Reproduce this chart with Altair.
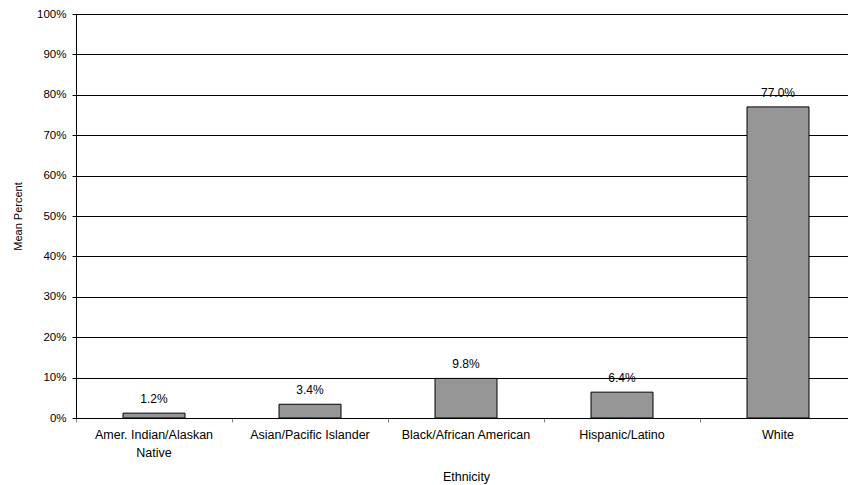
import altair as alt
import pandas as pd

# Mean share of each ethnicity
ethnicities = [
    "Amer. Indian/Alaskan Native",
    "Asian/Pacific Islander",
    "Black/African American",
    "Hispanic/Latino",
    "White",
]
mean_percent = [0.012, 0.034, 0.098, 0.064, 0.770]
y_ticks = [0, 0.1, 0.2, 0.3, 0.4, 0.5, 0.6, 0.7, 0.8, 0.9, 1.0]

df = pd.DataFrame({"Ethnicity": ethnicities, "Mean": mean_percent})

FONT = "Liberation Sans"

x_scale = alt.Scale(domain=ethnicities, range=[0, 780], paddingInner=0, paddingOuter=0)
y_scale = alt.Scale(domain=[0, 1])

y_axis = alt.Axis(
    values=y_ticks,
    format=".0%",
    grid=True,
    gridColor="black",
    gridOpacity=1,
    gridWidth=1,
    domainColor="black",
    tickColor="black",
    tickSize=4,
    labelPadding=6,
    labelFont=FONT,
    labelFontSize=11.5,
    labelColor="black",
    title="Mean Percent",
    titleFont=FONT,
    titleFontSize=11,
    titleFontWeight="normal",
    titleColor="black",
    titleAngle=-90,
    titleX=-58,
    titleY=202,
    titleAlign="center",
    titleBaseline="middle",
)

# Axis carrying the category names, centred under each bar
label_axis = alt.Axis(
    orient="bottom",
    ticks=False,
    domain=False,
    labelPadding=10,
    labelFont=FONT,
    labelFontSize=12.5,
    labelColor="black",
    labelLineHeight=18,
    labelAngle=0,
    labelLimit=300,
    labelExpr="datum.value == 'Amer. Indian/Alaskan Native' ? ['Amer. Indian/Alaskan', 'Native'] : datum.label",
    title="Ethnicity",
    titleFont=FONT,
    titleFontSize=12.5,
    titleFontWeight="normal",
    titleColor="black",
    titleY=58,
    titleBaseline="middle",
)

# Axis carrying the baseline and the tick marks between categories
tick_axis = alt.Axis(
    orient="bottom",
    labels=False,
    ticks=True,
    tickSize=4,
    tickColor="#808080",
    tickWidth=1,
    domain=True,
    domainColor="black",
    domainWidth=1,
    bandPosition=0,
    title=None,
    grid=False,
)

bars = alt.Chart(df).mark_bar(
    width=62, fill="#969696", stroke="black", strokeWidth=1
).encode(
    x=alt.X("Ethnicity:N", scale=x_scale, axis=label_axis, sort=ethnicities),
    y=alt.Y("Mean:Q", scale=y_scale, axis=y_axis),
)

labels = alt.Chart(df).mark_text(
    baseline="middle", dy=-14, font=FONT, fontSize=12, color="black"
).encode(
    x=alt.X("Ethnicity:N", scale=x_scale, axis=tick_axis, sort=ethnicities),
    y=alt.Y("Mean:Q", scale=y_scale),
    text=alt.Text("Mean:Q", format=".1%"),
)

chart = (
    alt.layer(bars, labels)
    .resolve_axis(x="independent")
    .properties(
        width=772,
        height=404,
        autosize=alt.AutoSizeParams(type="none"),
        padding={"left": 76, "top": 14, "right": 0, "bottom": 67},
        background="white",
    )
    .configure_view(stroke=None)
)

chart.save("out.html", embed_options={"renderer": "svg", "actions": False})
